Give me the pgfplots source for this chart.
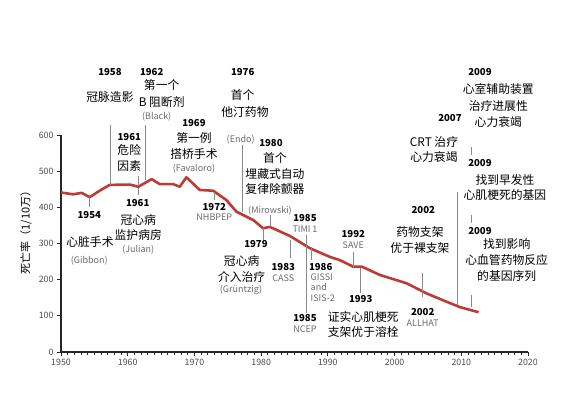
\documentclass[border=0pt]{standalone}
\usepackage{pgfplots}
\pgfplotsset{compat=1.18}
\usepackage{fontspec}
\setmainfont{Noto Sans CJK SC}
\definecolor{curve}{HTML}{BE3A34}
\definecolor{ann}{HTML}{8A8A8A}
\definecolor{gtxt}{HTML}{6A6A6A}
\newcommand{\yr}[1]{{\fontsize{9.6bp}{11bp}\selectfont\bfseries #1}}
\newcommand{\cn}[1]{{\fontsize{11.8bp}{14bp}\selectfont #1}}
\newcommand{\gr}[1]{{\fontsize{9bp}{10bp}\selectfont\color{gtxt}#1}}
\pgfplotstableread{
year val
1950.0 441
1951.8 436
1953.1 440
1954.3 428
1955.8 446
1957.3 462
1960.3 463
1961.6 457
1963.6 478
1964.8 464
1966.8 464
1967.8 457
1968.8 483
1970.8 448
1972.8 446
1974.8 420
1976.3 388
1978.8 365
1980.3 342
1981.3 346
1984.3 321
1987.3 287
1990.3 263
1991.8 254
1993.8 236
1995.1 236
1997.8 213
2001.8 190
2004.8 162
2007.8 139
2009.8 124
2012.6 110
}\mortality
\begin{document}
\begin{tikzpicture}
\path[use as bounding box] (-61bp,-44bp) rectangle (523bp,352bp);
\begin{axis}[
  at={(0,0)}, anchor=south west,
  scale only axis, width=467bp, height=217bp,
  xmin=1950, xmax=2020, ymin=0, ymax=600,
  axis lines=left, axis line style={-, line width=1.3bp, black!85},
  tick align=outside,
  xtick={1950,1960,...,2020}, minor xtick={1950,1951,...,2020},
  ytick={0,100,...,600},
  major tick length=4bp, minor tick length=2.5bp,
  tick style={black!85, line width=0.8bp},
  /pgf/number format/assume math mode=true,
  x tick label style={/pgf/number format/1000 sep={}, font=\fontsize{8.8bp}{10bp}\selectfont, text=black!70},
  y tick label style={font=\fontsize{8.8bp}{10bp}\selectfont, text=black!70},
  clip=false,
]
\addplot[curve, line width=2.6bp, line join=round] table[x=year,y=val] {\mortality};
\end{axis}
\begin{scope}[x=1bp,y=-1bp,shift={(-61bp,352bp)}, every node/.style={inner sep=0pt, align=center}]
% y label
\node[rotate=90] at (26,230) {\fontsize{11bp}{13bp}\selectfont 死亡率（1/10万）};
% connector lines
\begin{scope}[ann, line width=0.6bp]
\draw (89.3,196.7)--(89.3,206.7);
\draw (110,125)--(110,185);
\draw (138.7,176)--(138.7,186);
\draw (138.3,188)--(138.3,195);
\draw (145.3,125)--(145.3,180);
\draw (214.3,191.7)--(214.3,200);
\draw (242.7,145)--(242.7,211.7);
\draw (263.3,228)--(263.3,240);
\draw (270,215)--(270,226.7);
\draw (290.7,240)--(290.7,258);
\draw (306,235)--(306,313);
\draw (311.7,246.7)--(311.7,260);
\draw (353.3,251.7)--(353.3,266.7);
\draw (360.7,268)--(360.7,293.3);
\draw (422.7,273.3)--(422.7,296.7);
\draw (457.7,191.7)--(457.7,305);
\draw (471,146.7)--(471,155);
\draw (471,215)--(471,223);
\draw (471,295)--(471,307);
\end{scope}
% 1954
\node at (89.3,215) {\yr{1954}};
\node at (90,242.3) {\cn{心脏手术}};
\node at (89.3,260.7) {\gr{(Gibbon)}};
% 1958
\node at (110,71.7) {\yr{1958}};
\node at (110,96.7) {\cn{冠脉造影}};
% 1962
\node at (151.7,71.7) {\yr{1962}};
\node at (161.7,85) {\cn{第一个}};
\node at (161.7,102) {\cn{B 阻断剂}};
\node at (156.7,116.7) {\gr{(Black)}};
% 1961 upper
\node at (129.3,136.7) {\yr{1961}};
\node at (129.3,150.5) {\cn{危险}};
\node at (129.3,166) {\cn{因素}};
% 1961 lower
\node at (137.7,203.3) {\yr{1961}};
\node at (138.3,220) {\cn{冠心病}};
\node at (138.3,235) {\cn{监护病房}};
\node at (138.3,249.5) {\gr{(Julian)}};
% 1969
\node at (194,122.7) {\yr{1969}};
\node at (194,138.3) {\cn{第一例}};
\node at (194,154) {\cn{搭桥手术}};
\node at (194,168.3) {\gr{(Favaloro)}};
% 1972
\node at (214.3,206.7) {\yr{1972}};
\node at (214.3,217.3) {\gr{NHBPEP}};
% 1976
\node at (242.7,71.7) {\yr{1976}};
\node at (242.7,95) {\cn{首个}};
\node at (245,111.7) {\cn{他汀药物}};
\node at (240.7,139.3) {\gr{(Endo)}};
% 1980
\node at (271,143.3) {\yr{1980}};
\node at (275,158.3) {\cn{首个}};
\node at (275,174.3) {\cn{埋藏式自动}};
\node at (275,189.3) {\cn{复律除颤器}};
\node at (270,210.7) {\gr{(Mirowski)}};
% 1979
\node at (256,244.3) {\yr{1979}};
\node at (241.7,261) {\cn{冠心病}};
\node at (241.7,276.7) {\cn{介入治疗}};
\node at (241,290) {\gr{(Grüntzig)}};
% 1983
\node at (283.3,266.7) {\yr{1983}};
\node at (283.3,278.3) {\gr{CASS}};
% 1985 TIMI
\node at (305,218.3) {\yr{1985}};
\node at (305,229.3) {\gr{TIMI 1}};
% 1985 NCEP
\node at (305,318.3) {\yr{1985}};
\node at (305,329.3) {\gr{NCEP}};
% 1986
\node at (320.7,266.7) {\yr{1986}};
\node[align=left, anchor=north west] at (310.5,273.5) {\gr{GISSI}\\[-1.5bp]\gr{and}\\[-1.5bp]\gr{ISIS-2}};
% 1992
\node at (353.3,234.3) {\yr{1992}};
\node at (353.3,245) {\gr{SAVE}};
% 1993
\node at (360.7,299.3) {\yr{1993}};
\node at (363.3,316.7) {\cn{证实心肌梗死}};
\node at (363.3,331.7) {\cn{支架优于溶栓}};
% 2002 upper
\node at (423.3,210) {\yr{2002}};
\node at (420,232.3) {\cn{药物支架}};
\node at (420,248.3) {\cn{优于裸支架}};
% 2002 lower
\node at (422.7,312.3) {\yr{2002}};
\node at (422.7,323.3) {\gr{ALLHAT}};
% 2007
\node at (450,118.3) {\yr{2007}};
\node at (434,141.7) {\cn{CRT 治疗}};
\node at (434,156.7) {\cn{心力衰竭}};
% 2009 a
\node at (480,71.7) {\yr{2009}};
\node at (498.3,89.3) {\cn{心室辅助装置}};
\node at (498.3,106) {\cn{治疗进展性}};
\node at (498.3,121.7) {\cn{心力衰竭}};
% 2009 b
\node at (480,162.7) {\yr{2009}};
\node at (505,180) {\cn{找到早发性}};
\node at (505,195) {\cn{心肌梗死的基因}};
% 2009 c
\node at (480,231) {\yr{2009}};
\node at (506.7,244) {\cn{找到影响}};
\node at (506.7,260) {\cn{心血管药物反应}};
\node at (506.7,276) {\cn{的基因序列}};
\end{scope}
\end{tikzpicture}
\end{document}
